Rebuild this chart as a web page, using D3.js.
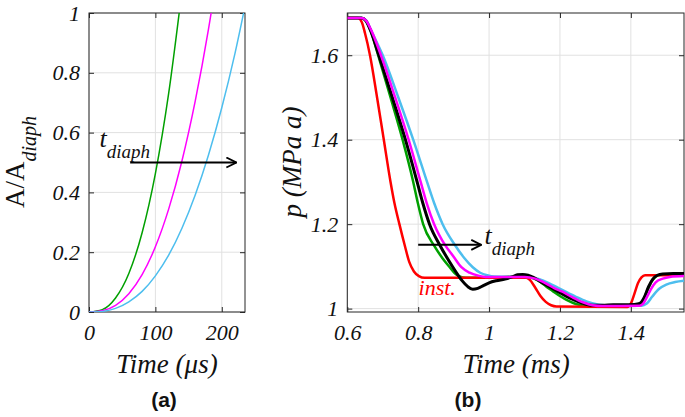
<!DOCTYPE html>
<html>
<head>
<meta charset="utf-8">
<script src="https://cdn.jsdelivr.net/npm/d3@7"></script>
<style>
body{margin:0;background:#fff}
svg text{font-family:"Liberation Serif","Times New Roman",serif;font-style:italic;fill:#111}
svg text.panel{font-family:"Liberation Sans",Arial,sans-serif;font-style:normal;font-weight:bold}
</style>
</head>
<body>
<svg id="fig" width="685" height="417"></svg>
<script>
// ---- panel (a): opening area ratio vs time (us)
const aTicksX = [0,100,200]
const aTicksY = [0,0.2,0.4,0.6,0.8,1]
const greenAT = [0,20,40,60,80,100,120,140]
const greenA  = [0,0.008,0.047,0.129,0.265,0.463,0.731,1.075]
const magAT   = [0,20,40,60,80,100,120,140,160,180,200]
const magA    = [0,0.004,0.022,0.061,0.125,0.218,0.344,0.505,0.705,0.946,1.232]
const cyanAT  = [0,20,40,60,80,100,120,140,160,180,200,220,240]
const cyanA   = [0,0.002,0.012,0.034,0.069,0.121,0.19,0.28,0.391,0.525,0.683,0.866,1.077]

// ---- panel (b): pressure vs time (ms)
const bTicksX = [0.6,0.8,1,1.2,1.4]
const bTicksY = [1,1.2,1.4,1.6]
const redT = [0.6,0.63,0.641,0.65,0.664,0.684,0.703,0.722,0.733,0.747,0.762,0.775,0.788,0.802,0.818,1.105,1.115,1.13,1.145,1.16,1.175,1.19,1.39,1.4,1.41,1.42,1.43,1.44,1.55]
const redP = [1.688,1.688,1.678,1.652,1.6,1.5,1.4,1.3,1.25,1.2,1.15,1.11,1.088,1.077,1.073,1.073,1.068,1.05,1.03,1.016,1.008,1.005,1.004,1.012,1.035,1.06,1.074,1.079,1.079]
const greenT = [0.6,0.64,0.652,0.665,0.687,0.722,0.756,0.786,0.799,0.814,0.845,0.868,0.889,0.902,0.915,0.935,1.05,1.1,1.125,1.145,1.16,1.179,1.2,1.22,1.245,1.27,1.3,1.42,1.432,1.445,1.46,1.472,1.485,1.55]
const greenP = [1.688,1.688,1.682,1.66,1.6,1.5,1.4,1.3,1.25,1.2,1.149,1.12,1.098,1.085,1.077,1.073,1.075,1.076,1.072,1.063,1.053,1.042,1.03,1.02,1.011,1.007,1.006,1.007,1.014,1.04,1.066,1.077,1.08,1.081]
const cyanT = [0.6,0.64,0.653,0.668,0.7,0.744,0.786,0.825,0.845,0.869,0.905,0.93,0.954,0.975,0.995,1.015,1.1,1.14,1.17,1.195,1.216,1.245,1.275,1.31,1.34,1.43,1.445,1.46,1.48,1.5,1.525,1.55]
const cyanP = [1.688,1.688,1.683,1.657,1.6,1.5,1.4,1.3,1.25,1.2,1.149,1.12,1.098,1.085,1.079,1.076,1.075,1.07,1.06,1.049,1.04,1.028,1.017,1.009,1.007,1.007,1.012,1.028,1.047,1.057,1.063,1.066]
const blackT = [0.6,0.64,0.652,0.665,0.689,0.727,0.764,0.797,0.813,0.832,0.862,0.898,0.912,0.925,0.94,0.954,0.968,0.985,1,1.02,1.045,1.065,1.08,1.095,1.11,1.125,1.145,1.17,1.2,1.23,1.26,1.29,1.32,1.35,1.38,1.41,1.425,1.437,1.45,1.462,1.475,1.49,1.52,1.55]
const blackP = [1.688,1.688,1.682,1.66,1.6,1.5,1.4,1.3,1.25,1.2,1.149,1.098,1.08,1.065,1.052,1.046,1.048,1.055,1.061,1.066,1.07,1.075,1.08,1.081,1.079,1.074,1.064,1.052,1.038,1.024,1.014,1.008,1.008,1.009,1.009,1.01,1.012,1.025,1.052,1.07,1.079,1.082,1.083,1.083]
const magT = [0.6,0.64,0.652,0.667,0.695,0.735,0.773,0.807,0.824,0.845,0.877,0.9,0.922,0.945,0.97,0.99,1.1,1.13,1.16,1.185,1.207,1.235,1.265,1.292,1.32,1.425,1.435,1.447,1.456,1.47,1.49,1.51,1.55]
const magP = [1.688,1.688,1.683,1.66,1.6,1.5,1.4,1.3,1.25,1.2,1.149,1.123,1.098,1.085,1.078,1.075,1.075,1.071,1.06,1.048,1.04,1.027,1.015,1.008,1.006,1.007,1.012,1.03,1.045,1.062,1.071,1.075,1.077]

const GREEN="#00a000", MAG="#ff00ff", CYAN="#4dbeee", RED="#ff0000", BLACK="#000000"
const SERIF='"Liberation Serif","Times New Roman",serif'

const svg = d3.select("#fig")

const defs = svg.append("defs")
defs.append("marker").attr("id","head").attr("viewBox","0 0 12 12")
	.attr("refX",11).attr("refY",6).attr("markerWidth",12).attr("markerHeight",12)
	.attr("markerUnits","userSpaceOnUse").attr("orient","auto")
	.append("path").attr("d","M1,1 L11,6 L1,11").attr("fill","none")
	.attr("stroke","#000").attr("stroke-width",1.8)

function frame(g,x,y,ticksX,ticksY,id){
	const [x0,x1]=x.range(), [y0,y1]=y.range()
	g.append("clipPath").attr("id",id).append("rect")
		.attr("x",x0).attr("y",y1).attr("width",x1-x0).attr("height",y0-y1)
	// grid
	g.selectAll(null).data(ticksX).enter().append("line")
		.attr("x1",d=>x(d)).attr("x2",d=>x(d)).attr("y1",y0).attr("y2",y1)
		.attr("stroke","#e1e1e1").attr("stroke-width",1)
	g.selectAll(null).data(ticksY).enter().append("line")
		.attr("y1",d=>y(d)).attr("y2",d=>y(d)).attr("x1",x0).attr("x2",x1)
		.attr("stroke","#e1e1e1").attr("stroke-width",1)
	const fmt = d3.format("~g")
	g.append("g").attr("transform","translate(0,"+y0+")")
		.call(d3.axisBottom(x).tickValues(ticksX).tickSize(-5).tickPadding(12).tickFormat(fmt))
	g.append("g").attr("transform","translate(0,"+y1+")")
		.call(d3.axisTop(x).tickValues(ticksX).tickSize(-5).tickFormat(""))
	g.append("g").attr("transform","translate("+x0+",0)")
		.call(d3.axisLeft(y).tickValues(ticksY).tickSize(-5).tickPadding(9).tickFormat(fmt))
	g.append("g").attr("transform","translate("+x1+",0)")
		.call(d3.axisRight(y).tickValues(ticksY).tickSize(-5).tickFormat(""))
	g.selectAll("g").attr("font-family",null).attr("font-size",null)
	g.selectAll(".domain").remove()
	g.selectAll(".tick line").attr("stroke","#262626")
	g.selectAll(".tick text").attr("font-size",22).attr("fill","#111")
		.style("font-family",SERIF).style("font-style","italic")
	g.append("rect").attr("x",x0).attr("y",y1).attr("width",x1-x0).attr("height",y0-y1)
		.attr("fill","none").attr("stroke","#262626").attr("stroke-width",1)
}

function curve(g,x,y,ts,vs,color,w,id){
	const pts = ts.map((t,i)=>[t,vs[i]])
	g.append("path").datum(pts).attr("clip-path","url(#"+id+")")
		.attr("fill","none").attr("stroke",color).attr("stroke-width",w)
		.attr("stroke-linejoin","round")
		.attr("d",d3.line().x(d=>x(d[0])).y(d=>y(d[1])).curve(d3.curveMonotoneX))
}

// ---------------- panel (a)
const xA = d3.scaleLinear([0,235],[89,245])
const yA = d3.scaleLinear([0,1],[312,13])
const gA = svg.append("g")
frame(gA,xA,yA,aTicksX,aTicksY,"clipA")
curve(gA,xA,yA,greenAT,greenA,GREEN,1.5,"clipA")
curve(gA,xA,yA,magAT,magA,MAG,1.5,"clipA")
curve(gA,xA,yA,cyanAT,cyanA,CYAN,1.5,"clipA")

gA.append("line").attr("x1",xA(62)).attr("x2",xA(222)).attr("y1",yA(0.5)).attr("y2",yA(0.5))
	.attr("stroke","#000").attr("stroke-width",2).attr("marker-end","url(#head)")
gA.append("text").attr("x",xA(16)).attr("y",yA(0.553)).attr("font-size",26)
	.text("t").append("tspan").attr("font-size",19).attr("dy",11).text("diaph")

gA.append("text").attr("x",167).attr("y",373).attr("text-anchor","middle").attr("font-size",27)
	.text("Time (\u03bcs)")
gA.append("text").attr("transform","translate(24,162) rotate(-90)").attr("text-anchor","middle")
	.attr("font-size",27).style("font-style","normal")
	.text("A/A").append("tspan").attr("font-size",20).style("font-style","italic").attr("dy",12).text("diaph")
gA.append("text").attr("class","panel").attr("x",164).attr("y",407).attr("text-anchor","middle")
	.attr("font-size",21).text("(a)")

// ---------------- panel (b)
const xB = d3.scaleLinear([0.6,1.55],[347.3,684])
const yB = d3.scaleLinear([0.992,1.7],[312,13])
const gB = svg.append("g")
frame(gB,xB,yB,bTicksX,bTicksY,"clipB")
curve(gB,xB,yB,cyanT,cyanP,CYAN,2.5,"clipB")
curve(gB,xB,yB,greenT,greenP,GREEN,2.5,"clipB")
curve(gB,xB,yB,redT,redP,RED,2.5,"clipB")
curve(gB,xB,yB,blackT,blackP,BLACK,3,"clipB")
curve(gB,xB,yB,magT,magP,MAG,2.5,"clipB")

gB.append("line").attr("x1",xB(0.8)).attr("x2",xB(0.978)).attr("y1",yB(1.151)).attr("y2",yB(1.151))
	.attr("stroke","#000").attr("stroke-width",2).attr("marker-end","url(#head)")
gB.append("text").attr("x",xB(0.987)).attr("y",yB(1.154)).attr("font-size",26)
	.text("t").append("tspan").attr("font-size",19).attr("dy",11).text("diaph")
gB.append("text").attr("x",xB(0.801)).attr("y",yB(1.033)).attr("font-size",22)
	.style("fill",RED).text("inst.")

gB.append("text").attr("x",516).attr("y",373).attr("text-anchor","middle").attr("font-size",27)
	.text("Time (ms)")
gB.append("text").attr("transform","translate(301,162) rotate(-90)").attr("text-anchor","middle")
	.attr("font-size",27).text("p (MPa a)")
gB.append("text").attr("class","panel").attr("x",468).attr("y",407).attr("text-anchor","middle")
	.attr("font-size",21).text("(b)")
</script>
</body>
</html>
